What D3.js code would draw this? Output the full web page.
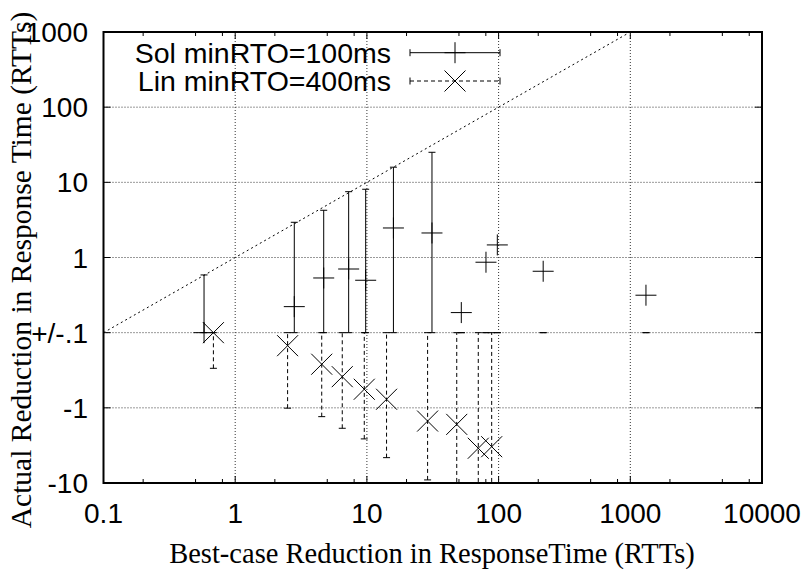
<!DOCTYPE html>
<html>
<head>
<meta charset="utf-8">
<script src="https://cdn.jsdelivr.net/npm/d3@7"></script>
<style>
  html, body { margin: 0; padding: 0; background: #fff; }
  svg { display: block; }
</style>
</head>
<body>
<svg id="chart" width="807" height="575"></svg>
<script>
// ---------- data ----------
const xTickValues = [0.1, 1, 10, 100, 1000, 10000];
const xTickLabels = ["0.1", "1", "10", "100", "1000", "10000"];
const yTickValues = [1000, 100, 10, 1, 0.1, -1, -10];
const yTickLabels = ["1000", "100", "10", "1", "+/-.1", "-1", "-10"];
const xMinorMultipliers = [2, 5, 8];

const seriesNames = ["Sol minRTO=100ms", "Lin minRTO=400ms"];

// Sol minRTO=100ms  (plus markers, solid error bars)
const solX    = [0.58, 2.81, 4.70, 7.27, 9.79, 15.9, 31.2, 52.1, 80.2, 97.8, 218, 1315];
const solY    = [0.1, 0.222, 0.534, 0.703, 0.498, 2.47, 2.12, 0.185, 0.865, 1.47, 0.656, 0.315];
const solLow  = [0.1, 0.1, 0.1, 0.1, 0.1, 0.1, 0.1, 0.1, 0.1, 0.1, 0.1, 0.1];
const solHigh = [0.586, 2.94, 4.25, 7.51, 8.09, 15.9, 25.1, 0.1, 0.1, 0.1, 0.1, 0.1];

// Lin minRTO=400ms  (x markers, dashed error bars)
const linX    = [0.683, 2.50, 4.54, 6.50, 9.55, 14.1, 28.9, 48.1, 70.1, 88.6];
const linY    = [-0.1, -0.149, -0.263, -0.385, -0.566, -0.769, -1.50, -1.66, -3.45, -3.29];
const linLow  = [-0.298, -1.01, -1.31, -1.87, -2.59, -4.60, -9.1, -12, -12, -12];
const linHigh = [-0.1, -0.1, -0.1, -0.1, -0.1, -0.1, -0.1, -0.1, -0.1, -0.1];

const diagX = [0.1, 1000];

// ---------- layout ----------
const L = 103.5, R = 762, T = 32, B = 483;
const svg = d3.select("#chart");

const x = d3.scaleLog().domain([0.1, 10000]).range([L, R]);
// symmetric log transform: |v|<=0.1 collapses onto 0
const tr = v => Math.abs(v) <= 0.1 ? 0 : Math.sign(v) * (Math.log10(Math.abs(v)) + 1);
const yLin = d3.scaleLinear().domain([-2, 4]).range([B, T]);
const y = v => yLin(tr(v));

const sans = "'Liberation Sans', Arial, Helvetica, sans-serif";
const serif = "'Liberation Serif', 'Times New Roman', Times, serif";

svg.append("defs").append("clipPath").attr("id", "clip")
  .append("rect").attr("x", L).attr("y", T).attr("width", R - L).attr("height", B - T);

// ---------- grid ----------
const grid = svg.append("g");
grid.selectAll("line.gx").data(xTickValues.filter(v => v > 0.1 && v < 10000)).enter()
  .append("line")
  .attr("x1", d => x(d)).attr("x2", d => x(d)).attr("y1", T).attr("y2", B)
  .attr("stroke", "#333").attr("stroke-width", 1).attr("stroke-dasharray", "1,2");
grid.selectAll("line.gy").data(yTickValues.filter(v => v !== 1000 && v !== -10)).enter()
  .append("line")
  .attr("x1", L).attr("x2", R).attr("y1", d => y(d)).attr("y2", d => y(d))
  .attr("stroke", "#333").attr("stroke-width", 1).attr("stroke-dasharray", "1,2");

// ---------- ticks ----------
const ticks = svg.append("g").attr("stroke", "#000").attr("stroke-width", 1);
const minorX = [];
for (let i = 0; i < xTickValues.length - 1; i++)
  xMinorMultipliers.forEach(m => minorX.push(xTickValues[i] * m));
xTickValues.forEach(v => {
  ticks.append("line").attr("x1", x(v)).attr("x2", x(v)).attr("y1", B).attr("y2", B - 7);
  ticks.append("line").attr("x1", x(v)).attr("x2", x(v)).attr("y1", T).attr("y2", T + 7);
});
minorX.forEach(v => {
  ticks.append("line").attr("x1", x(v)).attr("x2", x(v)).attr("y1", B).attr("y2", B - 4);
  ticks.append("line").attr("x1", x(v)).attr("x2", x(v)).attr("y1", T).attr("y2", T + 4);
});
yTickValues.forEach(v => {
  ticks.append("line").attr("x1", L).attr("x2", L + 7).attr("y1", y(v)).attr("y2", y(v));
  ticks.append("line").attr("x1", R).attr("x2", R - 7).attr("y1", y(v)).attr("y2", y(v));
});

// ---------- tick labels ----------
svg.append("g").selectAll("text").data(xTickValues).enter().append("text")
  .attr("x", d => x(d)).attr("y", 523)
  .attr("text-anchor", "middle")
  .attr("font-family", sans).attr("font-size", 28)
  .text((d, i) => xTickLabels[i]);
svg.append("g").selectAll("text").data(yTickValues).enter().append("text")
  .attr("x", 88).attr("y", d => y(d))
  .attr("dy", "0.36em")
  .attr("text-anchor", "end")
  .attr("font-family", sans).attr("font-size", 28)
  .text((d, i) => yTickLabels[i]);

// ---------- diagonal y=x ----------
svg.append("path")
  .datum(diagX)
  .attr("d", d3.line().x(d => x(d)).y(d => y(d)))
  .attr("fill", "none").attr("stroke", "#000").attr("stroke-width", 1)
  .attr("stroke-dasharray", "2,3");

// ---------- series ----------
const plot = svg.append("g").attr("clip-path", "url(#clip)");
const cap = 3.5, mk = 10.5;

function errorBars(g, xs, lows, highs, dash) {
  xs.forEach((xv, i) => {
    const px = x(xv), y1 = y(lows[i]), y2 = y(highs[i]);
    g.append("line").attr("x1", px).attr("x2", px).attr("y1", y1).attr("y2", y2)
      .attr("stroke", "#000").attr("stroke-width", 1).attr("stroke-dasharray", dash);
    [y1, y2].forEach(py => g.append("line")
      .attr("x1", px - cap).attr("x2", px + cap).attr("y1", py).attr("y2", py)
      .attr("stroke", "#000").attr("stroke-width", 1));
  });
}
function plusMark(g, px, py) {
  g.append("path").attr("d", `M${px - mk},${py}H${px + mk}M${px},${py - mk}V${py + mk}`)
    .attr("stroke", "#000").attr("stroke-width", 1).attr("fill", "none");
}
function crossMark(g, px, py) {
  const s = mk;
  g.append("path").attr("d", `M${px - s},${py - s}L${px + s},${py + s}M${px - s},${py + s}L${px + s},${py - s}`)
    .attr("stroke", "#000").attr("stroke-width", 1).attr("fill", "none");
}

errorBars(plot, solX, solLow, solHigh, null);
solX.forEach((xv, i) => plusMark(plot, x(xv), y(solY[i])));
errorBars(plot, linX, linLow, linHigh, "4,3");
linX.forEach((xv, i) => crossMark(plot, x(xv), y(linY[i])));

// ---------- frame ----------
svg.append("rect").attr("x", L).attr("y", T).attr("width", R - L).attr("height", B - T)
  .attr("fill", "none").attr("stroke", "#000").attr("stroke-width", 2);

// ---------- legend ----------
const legend = svg.append("g");
const legY = [52.7, 81];
const legX1 = 410, legX2 = 500, legMid = 455;
seriesNames.forEach((name, i) => {
  legend.append("text").attr("x", 391).attr("y", legY[i]).attr("dy", "0.36em")
    .attr("text-anchor", "end").attr("font-family", sans).attr("font-size", 28.5)
    .text(name);
  legend.append("line").attr("x1", legX1).attr("x2", legX2).attr("y1", legY[i]).attr("y2", legY[i])
    .attr("stroke", "#000").attr("stroke-width", 1).attr("stroke-dasharray", i === 1 ? "4,3" : null);
  [legX1, legX2].forEach(px => legend.append("line")
    .attr("x1", px).attr("x2", px).attr("y1", legY[i] - 3.5).attr("y2", legY[i] + 3.5)
    .attr("stroke", "#000").attr("stroke-width", 1));
  if (i === 0) plusMark(legend, legMid, legY[i]); else crossMark(legend, legMid, legY[i]);
});

// ---------- axis titles ----------
svg.append("text").attr("x", 432).attr("y", 563)
  .attr("text-anchor", "middle").attr("font-family", serif).attr("font-size", 28.5)
  .text("Best-case Reduction in ResponseTime (RTTs)");
svg.append("text").attr("transform", "translate(31,270) rotate(-90)")
  .attr("text-anchor", "middle").attr("font-family", serif).attr("font-size", 29.5)
  .text("Actual Reduction in Response Time (RTTs)");
</script>
</body>
</html>
